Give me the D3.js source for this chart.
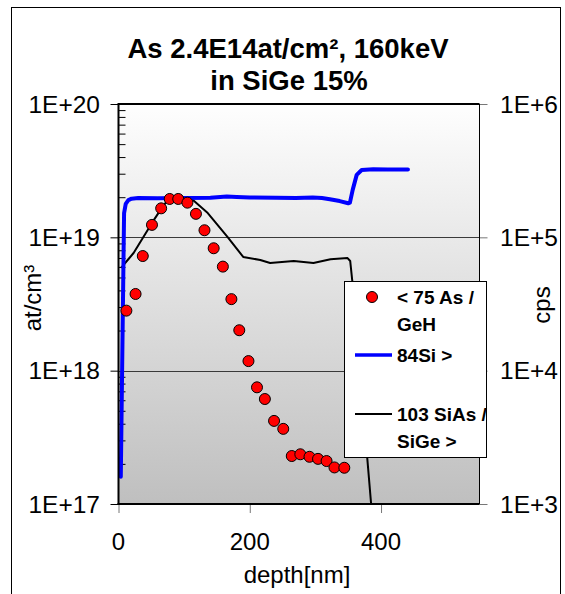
<!DOCTYPE html>
<html>

<head>
    <script src="https://d3js.org/d3.v7.min.js"></script>
    <style>
        body {
            margin: 0;
            background: #fff;
        }

        text {
            font-family: "Liberation Sans", Arial, sans-serif;
            fill: #000;
        }
    </style>
</head>

<body>
    <script>
        // data
        var asDepth = [12, 26, 37, 51, 65, 78, 91, 105, 118, 131, 145, 159, 172, 184, 198, 211, 223, 237, 251, 264, 277, 291, 304, 317, 329, 344];
        var asConc = [2.82e18, 3.76e18, 7.24e18, 1.24e19, 1.65e19, 1.94e19, 1.94e19, 1.82e19, 1.50e19, 1.13e19, 8.28e18, 6.03e18,
            3.44e18, 2.01e18, 1.18e18, 7.5e17, 6.13e17, 4.2e17, 3.66e17, 2.29e17, 2.36e17, 2.26e17, 2.18e17, 2.10e17, 1.88e17, 1.87e17];

        var siDepth = [3.5, 8.5, 11, 15, 20, 30, 60, 100, 140, 165, 180, 200, 240, 270, 296, 310, 322, 337, 350, 352.6, 356.8, 362.9, 370.5, 388, 410, 441];
        var siCps = [1600, 152000, 178000, 190000, 195000, 197000, 196000, 197000, 198000, 202000, 201000, 199000, 198000, 197000, 199000,
            197000, 193000, 187000, 180000, 182000, 227000, 294000, 320000, 324000, 322000, 322000];

        var sigeDepth = [4, 14, 23, 37, 52, 64, 75, 90, 99, 113, 136, 166, 190, 216, 231, 267, 297, 323, 349, 353, 356, 360, 366, 372, 379, 385, 388];
        var sigeCps = [58900, 67600, 76300, 98900, 130500, 160600, 191000, 201000, 201000, 191000, 152000, 100700, 71300, 67600, 64200,
            66500, 64200, 68600, 69900, 66500, 47900, 33900, 14300, 6030, 2210, 983, 760];

        var xTicks = [0, 200, 400];
        var leftTicks = [1e17, 1e18, 1e19, 1e20];
        var leftLabels = ["1E+17", "1E+18", "1E+19", "1E+20"];
        var rightTicks = [1e3, 1e4, 1e5, 1e6];
        var rightLabels = ["1E+3", "1E+4", "1E+5", "1E+6"];
        var legendNames = [["< 75 As /", "GeH"], ["84Si >"], ["103 SiAs /", "SiGe >"]];

        var W = 565, H = 594;
        var pL = 118.5, pR = 479.5, pT = 104, pB = 504;

        var svg = d3.select("body").append("svg")
            .attr("width", W)
            .attr("height", H);

        var x = d3.scaleLinear().domain([0, 550]).range([pL, pR]);
        var yL = d3.scaleLog().domain([1e17, 1e20]).range([pB, pT]);
        var yR = d3.scaleLog().domain([1e3, 1e6]).range([pB, pT]);

        // outer chart border
        svg.append("rect")
            .attr("x", 11.5).attr("y", 7.5)
            .attr("width", 549).attr("height", 600)
            .attr("fill", "#fff").attr("stroke", "#000").attr("stroke-width", 1);

        var defs = svg.append("defs");
        var grad = defs.append("linearGradient")
            .attr("id", "bg").attr("x1", 0).attr("y1", 0).attr("x2", 0).attr("y2", 1);
        grad.append("stop").attr("offset", 0).attr("stop-color", "#fefefe");
        grad.append("stop").attr("offset", 1).attr("stop-color", "#bfbfbf");

        defs.append("clipPath").attr("id", "clip")
            .append("rect").attr("x", pL).attr("y", pT)
            .attr("width", pR - pL).attr("height", pB - pT);

        svg.append("rect")
            .attr("x", pL).attr("y", pT)
            .attr("width", pR - pL).attr("height", pB - pT)
            .attr("fill", "url(#bg)");

        // gridlines at decades
        svg.append("g").selectAll("line")
            .data([1e18, 1e19])
            .enter().append("line")
            .attr("x1", pL).attr("x2", pR)
            .attr("y1", function (d) { return Math.round(yL(d)) + 0.5; })
            .attr("y2", function (d) { return Math.round(yL(d)) + 0.5; })
            .attr("stroke", "#3a3a3a").attr("stroke-width", 1);

        // left axis: major ticks out, minor ticks in
        var gl = svg.append("g").attr("transform", "translate(" + pL + ",0)");
        gl.call(d3.axisLeft(yL).tickValues(leftTicks).tickFormat("").tickSize(8).tickSizeOuter(0));
        var minors = [];
        [1e17, 1e18, 1e19].forEach(function (dec) {
            for (var k = 2; k <= 9; k++) minors.push(dec * k);
        });
        gl.append("g").call(d3.axisRight(yL).tickValues(minors).tickFormat("").tickSize(7).tickSizeOuter(0));
        gl.selectAll("path").remove();
        gl.selectAll("line").attr("stroke", "#000");

        var gr = svg.append("g").attr("transform", "translate(" + pR + ",0)");
        gr.call(d3.axisRight(yR).tickValues(rightTicks).tickFormat("").tickSize(8).tickSizeOuter(0));
        gr.selectAll("path").remove();
        gr.selectAll("line").attr("stroke", "#777");

        var gx = svg.append("g").attr("transform", "translate(0," + pB + ")");
        gx.call(d3.axisBottom(x).tickValues(xTicks).tickFormat("").tickSize(9).tickSizeOuter(0));
        gx.selectAll("path").remove();
        gx.selectAll("line").attr("stroke", "#777");

        // frame
        svg.append("line").attr("x1", pL).attr("x2", pR).attr("y1", pT).attr("y2", pT)
            .attr("stroke", "#000").attr("stroke-width", 2);
        svg.append("line").attr("x1", pR).attr("x2", pR).attr("y1", pT).attr("y2", pB)
            .attr("stroke", "#000").attr("stroke-width", 1);

        // series
        var plot = svg.append("g").attr("clip-path", "url(#clip)");

        var lineR = d3.line()
            .x(function (d) { return x(d[0]); })
            .y(function (d) { return yR(d[1]); });

        plot.append("path")
            .datum(d3.zip(sigeDepth, sigeCps))
            .attr("d", lineR)
            .attr("fill", "none").attr("stroke", "#000").attr("stroke-width", 2)
            .attr("stroke-linejoin", "round");

        plot.append("path")
            .datum(d3.zip(siDepth, siCps))
            .attr("d", lineR)
            .attr("fill", "none").attr("stroke", "#0000ff").attr("stroke-width", 4)
            .attr("stroke-linejoin", "round").attr("stroke-linecap", "round");

        plot.selectAll("circle")
            .data(d3.zip(asDepth, asConc))
            .enter().append("circle")
            .attr("cx", function (d) { return x(d[0]); })
            .attr("cy", function (d) { return yL(d[1]); })
            .attr("r", 5.5)
            .attr("fill", "#ff0000").attr("stroke", "#000").attr("stroke-width", 1);

        // axis lines (left & bottom)
        svg.append("line").attr("x1", pL).attr("x2", pL).attr("y1", pT - 1).attr("y2", pB + 1)
            .attr("stroke", "#000").attr("stroke-width", 2);
        svg.append("line").attr("x1", pL - 1).attr("x2", pR).attr("y1", pB).attr("y2", pB)
            .attr("stroke", "#000").attr("stroke-width", 2);

        // tick labels
        svg.append("g").selectAll("text")
            .data(leftTicks)
            .enter().append("text")
            .attr("x", 100).attr("y", function (d) { return yL(d) + 8.5; })
            .attr("text-anchor", "end").attr("font-size", 24.5)
            .text(function (d, i) { return leftLabels[i]; });

        svg.append("g").selectAll("text")
            .data(rightTicks)
            .enter().append("text")
            .attr("x", 500).attr("y", function (d) { return yR(d) + 8.5; })
            .attr("font-size", 24.5)
            .text(function (d, i) { return rightLabels[i]; });

        svg.append("g").selectAll("text")
            .data(xTicks)
            .enter().append("text")
            .attr("x", function (d) { return x(d); }).attr("y", 550)
            .attr("text-anchor", "middle").attr("font-size", 24)
            .text(function (d) { return d; });

        // titles
        svg.append("text").attr("x", 288).attr("y", 58)
            .attr("text-anchor", "middle").attr("font-size", 27.5).attr("font-weight", "bold")
            .text("As 2.4E14at/cm², 160keV");
        svg.append("text").attr("x", 289).attr("y", 90)
            .attr("text-anchor", "middle").attr("font-size", 27.5).attr("font-weight", "bold")
            .text("in SiGe 15%");

        svg.append("text").attr("x", 297).attr("y", 583)
            .attr("text-anchor", "middle").attr("font-size", 24)
            .text("depth[nm]");
        svg.append("text").attr("transform", "translate(41,298) rotate(-90)")
            .attr("text-anchor", "middle").attr("font-size", 24)
            .text("at/cm³");
        svg.append("text").attr("transform", "translate(550,305) rotate(-90)")
            .attr("text-anchor", "middle").attr("font-size", 24)
            .text("cps");

        // legend
        var lg = svg.append("g");
        lg.append("rect").attr("x", 344.5).attr("y", 281.5).attr("width", 142).attr("height", 176)
            .attr("fill", "#fff").attr("stroke", "#000").attr("stroke-width", 1);
        lg.append("circle").attr("cx", 372).attr("cy", 297).attr("r", 5.5)
            .attr("fill", "#ff0000").attr("stroke", "#000");
        lg.append("line").attr("x1", 355).attr("x2", 392).attr("y1", 355).attr("y2", 355)
            .attr("stroke", "#0000ff").attr("stroke-width", 3.5);
        lg.append("line").attr("x1", 355).attr("x2", 392).attr("y1", 414).attr("y2", 414)
            .attr("stroke", "#000").attr("stroke-width", 2);
        var rows = [[304, 331], [362], [421, 448]];
        legendNames.forEach(function (names, i) {
            names.forEach(function (s, j) {
                lg.append("text").attr("x", 397).attr("y", rows[i][j])
                    .attr("font-size", 19).attr("font-weight", "bold")
                    .text(s);
            });
        });
    </script>
</body>

</html>
